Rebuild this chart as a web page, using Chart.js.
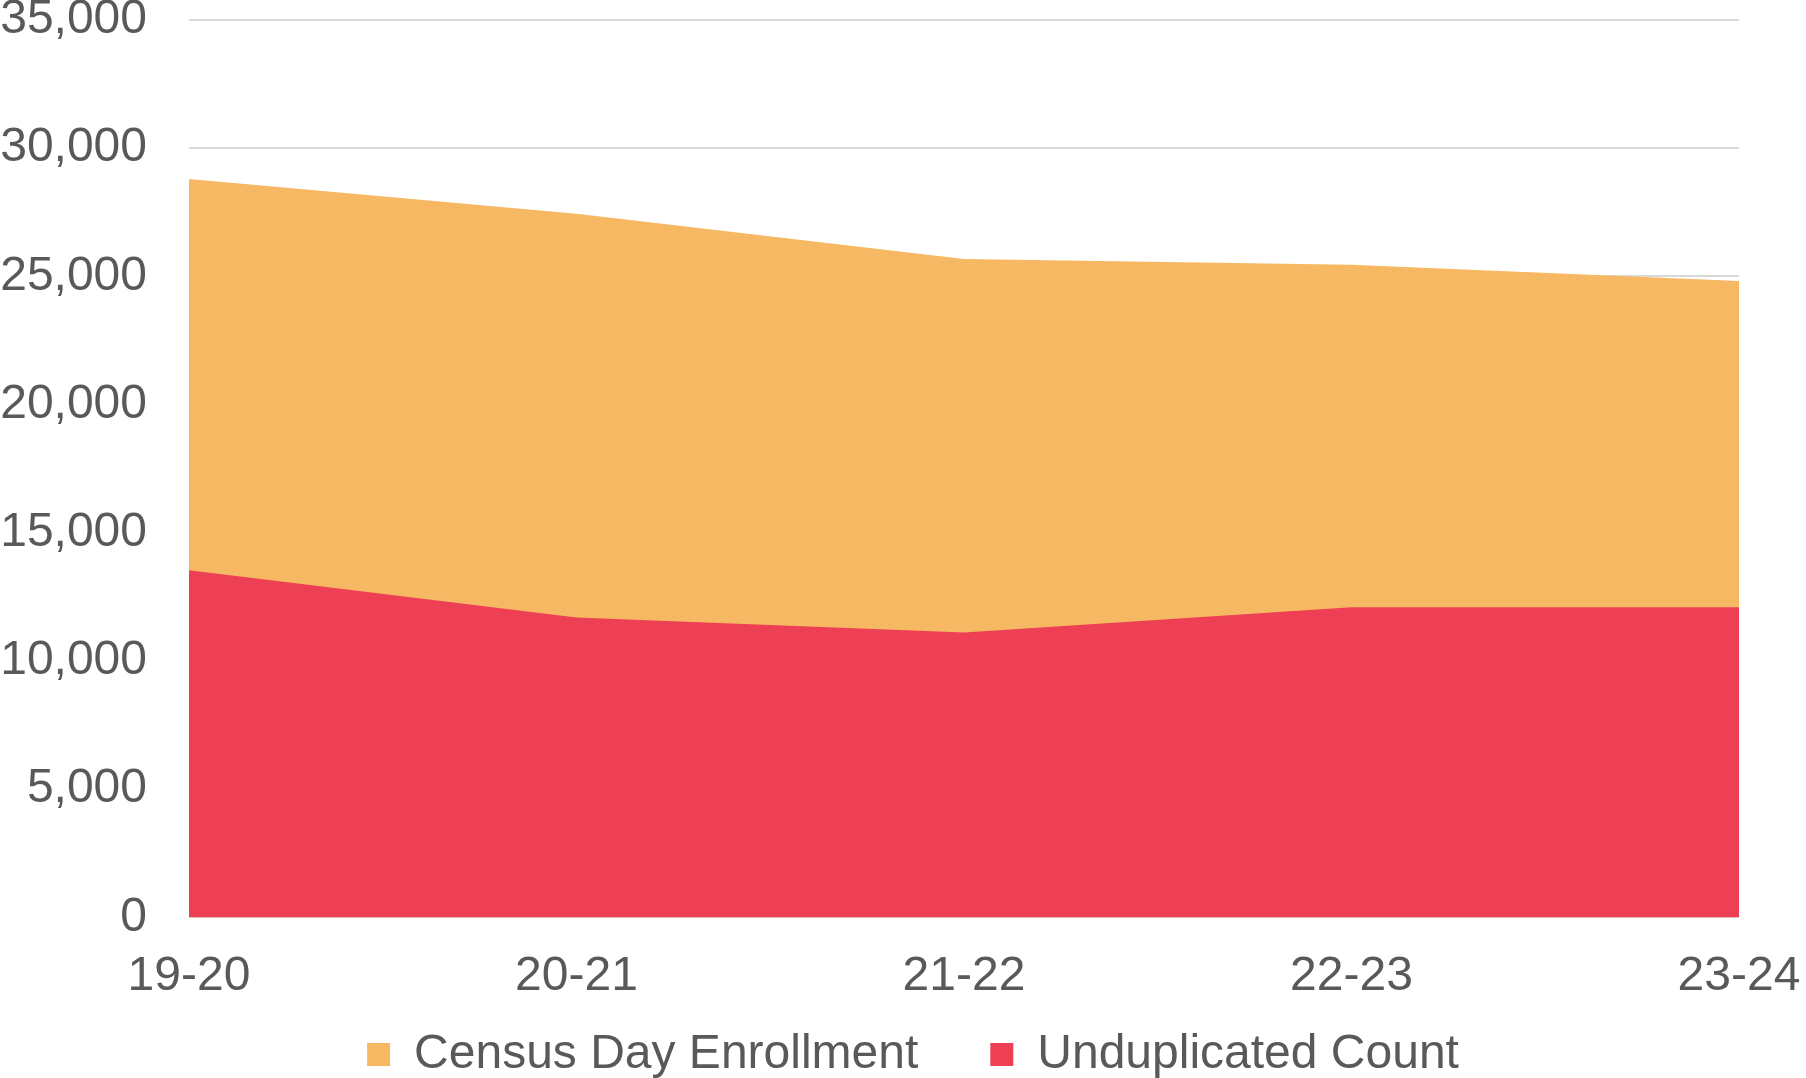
<!DOCTYPE html>
<html lang="en">
<head>
    <meta charset="UTF-8">
    <title>Census Day Enrollment vs Unduplicated Count</title>
    <script src="https://cdn.jsdelivr.net/npm/chart.js"></script>
    <style>
        html, body { margin: 0; padding: 0; background: #fff; }
        .chart-container { width: 1806px; height: 1078px; }
    </style>
</head>
<body>
    <div class="chart-container">
        <canvas id="myChart"></canvas>
    </div>

    <script>
        const years = ['19-20', '20-21', '21-22', '22-23', '23-24'];
        const censusDay = [28800, 27440, 25680, 25450, 24820];
        const unduplicated = [13540, 11700, 11110, 12100, 12100];
        const yTicks = [0, 5000, 10000, 15000, 20000, 25000, 30000, 35000];

        const textColor = '#595959';
        const fontFamily = "'Liberation Sans', Arial, sans-serif";

        // legend padding is shared between item spacing and vertical spacing,
        // so place the legend box under the axis labels after layout
        const legendPlacement = {
            id: 'legendPlacement',
            afterLayout(chart) {
                const legend = chart.legend;
                legend.top = chart.chartArea.bottom + 41;
                legend.bottom = chart.height;
                legend.height = legend.bottom - legend.top;
                legend.left += 10;
                legend.right += 10;
            }
        };

        const ctx = document.getElementById('myChart').getContext('2d');
        window.myChart = new Chart(ctx, {
            type: 'line',
            data: {
                labels: years,
                datasets: [{
                    label: 'Unduplicated Count',
                    data: unduplicated,
                    backgroundColor: '#EE4055',
                    borderWidth: 0,
                    pointRadius: 0,
                    tension: 0,
                    fill: 'origin'
                }, {
                    label: 'Census Day Enrollment',
                    data: censusDay,
                    backgroundColor: '#F7B864',
                    borderWidth: 0,
                    pointRadius: 0,
                    tension: 0,
                    fill: 'origin'
                }]
            },
            options: {
                responsive: true,
                maintainAspectRatio: false,
                animation: false,
                layout: {
                    padding: { left: 0, right: 0, top: 20, bottom: -59 }
                },
                scales: {
                    x: {
                        offset: false,
                        grid: { display: false, drawTicks: false },
                        border: { display: false },
                        afterFit: function(scale) {
                            scale.paddingRight = 67;
                        },
                        ticks: {
                            color: textColor,
                            padding: 31,
                            maxRotation: 0,
                            font: { family: fontFamily, size: 48 }
                        }
                    },
                    y: {
                        min: yTicks[0],
                        max: yTicks[yTicks.length - 1],
                        afterBuildTicks: function(scale) {
                            scale.ticks = yTicks.map(v => ({ value: v }));
                        },
                        afterFit: function(scale) {
                            scale.width = 189;
                            scale.paddingTop = 0;
                            scale.paddingBottom = 0;
                        },
                        grid: { color: '#D9D9D9', lineWidth: 2, drawTicks: false },
                        border: { display: false },
                        ticks: {
                            color: textColor,
                            padding: 42,
                            font: { family: fontFamily, size: 48 },
                            callback: function(value) {
                                return value.toLocaleString('en-US');
                            }
                        }
                    }
                },
                plugins: {
                    legend: {
                        position: 'bottom',
                        reverse: true,
                        maxHeight: 100,
                        labels: {
                            color: textColor,
                            boxWidth: 23,
                            boxHeight: 23,
                            padding: 72,
                            font: { family: fontFamily, size: 48 }
                        }
                    },
                    tooltip: { enabled: false }
                }
            },
            plugins: [legendPlacement]
        });
    </script>
</body>
</html>
